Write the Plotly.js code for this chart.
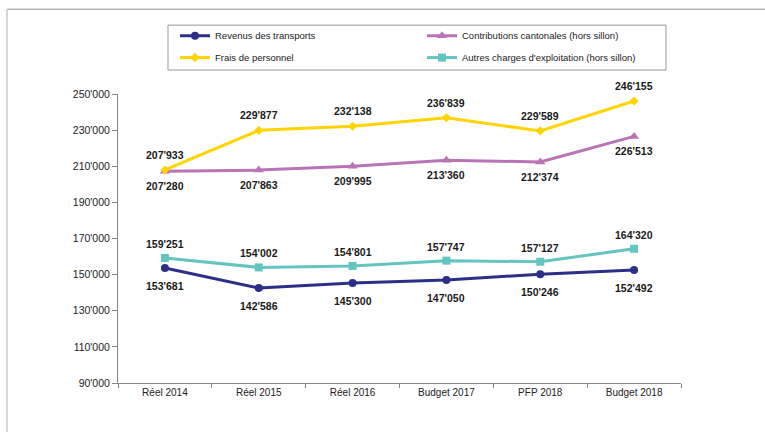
<!DOCTYPE html>
<html>
<head>
<meta charset="utf-8">
<script src="https://cdn.plot.ly/plotly-3.0.1.min.js"></script>
<style>
html,body{margin:0;padding:0;background:#fff;}
#chart{width:765px;height:432px;}
</style>
</head>
<body>
<div id="chart"></div>
<script>
var categories = ["Réel 2014", "Réel 2015", "Réel 2016", "Budget 2017", "PFP 2018", "Budget 2018"];
var revenusTransports = [153681, 142586, 145300, 147050, 150246, 152492];
var contributionsCantonales = [207280, 207863, 209995, 213360, 212374, 226513];
var fraisPersonnel = [207933, 229877, 232138, 236839, 229589, 246155];
var autresCharges = [159251, 154002, 154801, 157747, 157127, 164320];
var yTickVals = [90000, 110000, 130000, 150000, 170000, 190000, 210000, 230000, 250000];
var yTickText = ["90'000", "110'000", "130'000", "150'000", "170'000", "190'000", "210'000", "230'000", "250'000"];

function fmt(v) {
  return String(v).replace(/\B(?=(\d{3})+(?!\d))/g, "'");
}

var series = [
  {name: "Revenus des transports", y: revenusTransports, color: "#2B2F88", symbol: "circle", size: 8, shift: -18, legend: "legend"},
  {name: "Contributions cantonales (hors sillon)", y: contributionsCantonales, color: "#B974B6", symbol: "triangle-up", size: 9, shift: -15, legend: "legend"},
  {name: "Frais de personnel", y: fraisPersonnel, color: "#FFD400", symbol: "diamond", size: 7, shift: 15, legend: "legend2"},
  {name: "Autres charges d'exploitation (hors sillon)", y: autresCharges, color: "#64C4C2", symbol: "square", size: 8, shift: 14, legend: "legend2"}
];

var traces = series.map(function (s) {
  return {
    type: "scatter",
    mode: "lines+markers",
    name: s.name,
    legend: s.legend,
    x: categories,
    y: s.y,
    line: {color: s.color, width: 3},
    marker: {color: s.color, symbol: s.symbol, size: s.size},
    hoverinfo: "skip"
  };
});

var annotations = [];
series.forEach(function (s) {
  s.y.forEach(function (v, i) {
    annotations.push({
      x: categories[i], y: v, xref: "x", yref: "y",
      text: "<b>" + fmt(v) + "</b>",
      showarrow: false,
      yshift: s.shift,
      font: {family: "Liberation Sans, Arial, sans-serif", size: 10.5, color: "#1a1a1a"}
    });
  });
});

var W = 563, H = 289.5, L = 118, B = 383.5;
function px(x) { return (x - L) / W; }
function py(y) { return (B - y) / H; }

var shapes = [
  {type: "line", xref: "paper", yref: "paper", x0: px(7), x1: px(770), y0: py(9), y1: py(9), line: {color: "#b5b5b5", width: 1.5}},
  {type: "line", xref: "paper", yref: "paper", x0: px(7), x1: px(7), y0: py(9), y1: py(440), line: {color: "#c8c8c8", width: 1.5}},
  {type: "rect", xref: "paper", yref: "paper", x0: px(168), x1: px(666), y0: py(25), y1: py(70), line: {color: "#999", width: 1}}
];

function legendCfg(top) {
  return {
    orientation: "h",
    x: px(175), y: py(top), xanchor: "left", yanchor: "top",
    entrywidth: 202, entrywidthmode: "pixels",
    borderwidth: 0,
    bgcolor: "rgba(0,0,0,0)",
    font: {family: "Liberation Sans, Arial, sans-serif", size: 9.5, color: "#222"},
    traceorder: "normal"
  };
}

var layout = {
  width: 765, height: 432,
  margin: {l: 118, r: 84, t: 94, b: 48.5},
  paper_bgcolor: "#ffffff",
  plot_bgcolor: "#ffffff",
  font: {family: "Liberation Sans, Arial, sans-serif", size: 10.5, color: "#222"},
  showlegend: true,
  legend: legendCfg(21),
  legend2: legendCfg(43),
  xaxis: {
    type: "category",
    range: [-0.5, 5.5],
    showline: true, linecolor: "#888", linewidth: 1,
    ticks: "outside", tickson: "boundaries", ticklen: 4, tickcolor: "#888",
    showgrid: false, zeroline: false,
    tickfont: {size: 10, color: "#222"},
    fixedrange: true
  },
  yaxis: {
    range: [90000, 250000],
    tickvals: yTickVals, ticktext: yTickText,
    showline: true, linecolor: "#888", linewidth: 1,
    ticks: "outside", ticklen: 5, tickcolor: "#888",
    showgrid: false, zeroline: false,
    tickfont: {size: 10.5, color: "#222"},
    fixedrange: true
  },
  annotations: annotations,
  shapes: shapes
};

Plotly.newPlot("chart", traces, layout, {displayModeBar: false, staticPlot: true});
</script>
</body>
</html>
